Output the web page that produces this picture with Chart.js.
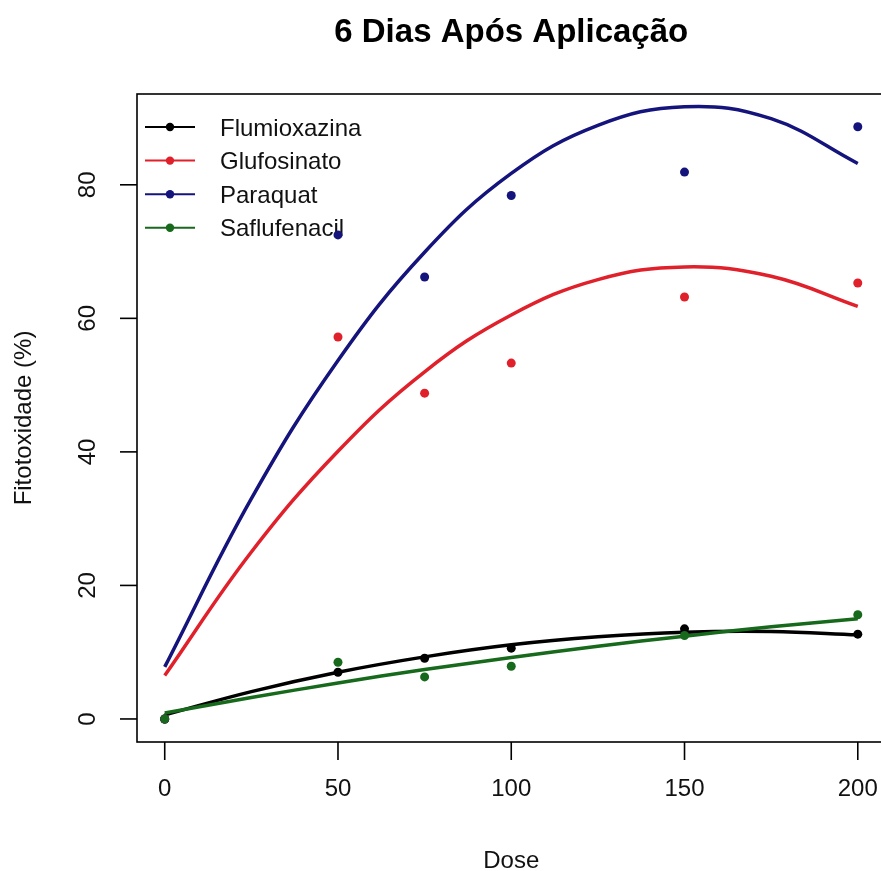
<!DOCTYPE html>
<html>
<head>
<meta charset="utf-8">
<script src="https://cdn.jsdelivr.net/npm/chart.js@4.4.0/dist/chart.umd.min.js"></script>
<style>
    html, body { margin: 0; padding: 0; background: #fff; overflow: hidden; }
    canvas { display: block; }
</style>
</head>
<body>
<canvas id="chart" width="890" height="871"></canvas>
<script>
// Observed means per dose (dose 0 is the untreated control)
const doses = [0, 50, 75, 100, 150, 200];
const flumioxazina = [0, 7.0, 9.1, 10.6, 13.5, 12.7];
const glufosinato = [0, 57.2, 48.8, 53.3, 63.2, 65.3];
const paraquat = [0, 72.5, 66.2, 78.4, 81.9, 88.7];
const saflufenacil = [0, 8.5, 6.3, 7.9, 12.5, 15.6];

// Fitted curves, every 25 units of dose
const curveDoses = [0, 25, 50, 75, 100, 125, 150, 175, 200];
const flumioxazinaFit = [0.6, 4.1, 7.0, 9.3, 11.1, 12.3, 13.0, 13.1, 12.6];
const glufosinatoFit = [6.5, 25.0, 40.1, 52.0, 60.5, 65.8, 67.7, 66.3, 61.8];
const paraquatFit = [7.8, 33.0, 53.7, 69.9, 81.7, 88.9, 91.7, 89.9, 83.2];
const saflufenacilFit = [0.9, 3.2, 5.4, 7.4, 9.2, 10.9, 12.4, 13.8, 15.0];

const seriesNames = ['Flumioxazina', 'Glufosinato', 'Paraquat', 'Saflufenacil'];
const seriesColors = ['#000000', '#e0202a', '#14147c', '#17691c'];
const xTicks = [0, 50, 100, 150, 200];
const yTicks = [0, 20, 40, 60, 80];

const FONT = '"Liberation Sans", Arial, sans-serif';
const TEXT = '#111111';

const observed = [flumioxazina, glufosinato, paraquat, saflufenacil];
const fitted = [flumioxazinaFit, glufosinatoFit, paraquatFit, saflufenacilFit];

const datasets = [];
seriesNames.forEach((name, i) => {
    datasets.push({
        label: name + ' fit',
        data: curveDoses.map((d, j) => ({ x: d, y: fitted[i][j] })),
        borderColor: seriesColors[i],
        borderWidth: 3.5,
        pointRadius: 0,
        tension: 0.4,
        fill: false,
        order: 20 - i * 2
    });
    datasets.push({
        label: name,
        data: doses.map((d, j) => ({ x: d, y: observed[i][j] })),
        showLine: false,
        pointRadius: 4.5,
        pointBackgroundColor: seriesColors[i],
        pointBorderWidth: 0,
        order: 19 - i * 2
    });
});

// R style legend (no box), drawn under the marks
const rLegend = {
    id: 'rLegend',
    beforeDatasetsDraw(chart) {
        const { ctx } = chart;
        ctx.save();
        seriesNames.forEach((name, i) => {
            const y = 127 + i * 33.6;
            ctx.strokeStyle = seriesColors[i];
            ctx.lineWidth = 2;
            ctx.beginPath();
            ctx.moveTo(145, y);
            ctx.lineTo(195, y);
            ctx.stroke();
            ctx.fillStyle = seriesColors[i];
            ctx.beginPath();
            ctx.arc(170, y, 4.2, 0, Math.PI * 2);
            ctx.fill();
            ctx.fillStyle = TEXT;
            ctx.font = '24px ' + FONT;
            ctx.textAlign = 'left';
            ctx.textBaseline = 'middle';
            ctx.fillText(name, 220, y + 2);
        });
        ctx.restore();
    }
};

// Box, axes, tick labels and titles in base-graphics style
const rFrame = {
    id: 'rFrame',
    afterDraw(chart) {
        const { ctx, chartArea: a } = chart;
        const xs = chart.scales.x;
        const ys = chart.scales.y;
        ctx.save();
        ctx.strokeStyle = '#000';
        ctx.lineWidth = 1.6;
        ctx.strokeRect(a.left, a.top, a.right - a.left, a.bottom - a.top);

        ctx.fillStyle = TEXT;
        ctx.font = '24px ' + FONT;
        ctx.textAlign = 'center';
        ctx.textBaseline = 'middle';
        xTicks.forEach(t => {
            const px = xs.getPixelForValue(t);
            ctx.beginPath();
            ctx.moveTo(px, a.bottom);
            ctx.lineTo(px, a.bottom + 18);
            ctx.stroke();
            ctx.fillText(String(t), px, 789);
        });
        yTicks.forEach(t => {
            const py = ys.getPixelForValue(t);
            ctx.beginPath();
            ctx.moveTo(a.left, py);
            ctx.lineTo(a.left - 17, py);
            ctx.stroke();
            ctx.save();
            ctx.translate(88, py);
            ctx.rotate(-Math.PI / 2);
            ctx.fillText(String(t), 0, 0);
            ctx.restore();
        });

        const cx = (a.left + a.right) / 2;
        ctx.fillText('Dose', cx, 861);
        ctx.save();
        ctx.translate(24, (a.top + a.bottom) / 2);
        ctx.rotate(-Math.PI / 2);
        ctx.fillText('Fitotoxidade (%)', 0, 0);
        ctx.restore();

        ctx.fillStyle = '#000';
        ctx.font = 'bold 33px ' + FONT;
        ctx.fillText('6 Dias Após Aplicação', cx, 33);
        ctx.restore();
    }
};

new Chart(document.getElementById('chart'), {
    type: 'line',
    data: { datasets },
    options: {
        responsive: false,
        devicePixelRatio: 1,
        animation: false,
        layout: { padding: { top: 94, right: 2, left: 0, bottom: 0 } },
        scales: {
            x: {
                type: 'linear',
                min: -8,
                max: 208,
                grid: { display: false },
                border: { display: false },
                ticks: { display: false },
                afterFit: s => { s.height = 129; }
            },
            y: {
                min: -3.45,
                max: 93.6,
                grid: { display: false },
                border: { display: false },
                ticks: { display: false },
                afterFit: s => { s.width = 137; }
            }
        },
        plugins: {
            legend: { display: false },
            title: { display: false },
            tooltip: { enabled: false }
        }
    },
    plugins: [rLegend, rFrame]
});
</script>
</body>
</html>
